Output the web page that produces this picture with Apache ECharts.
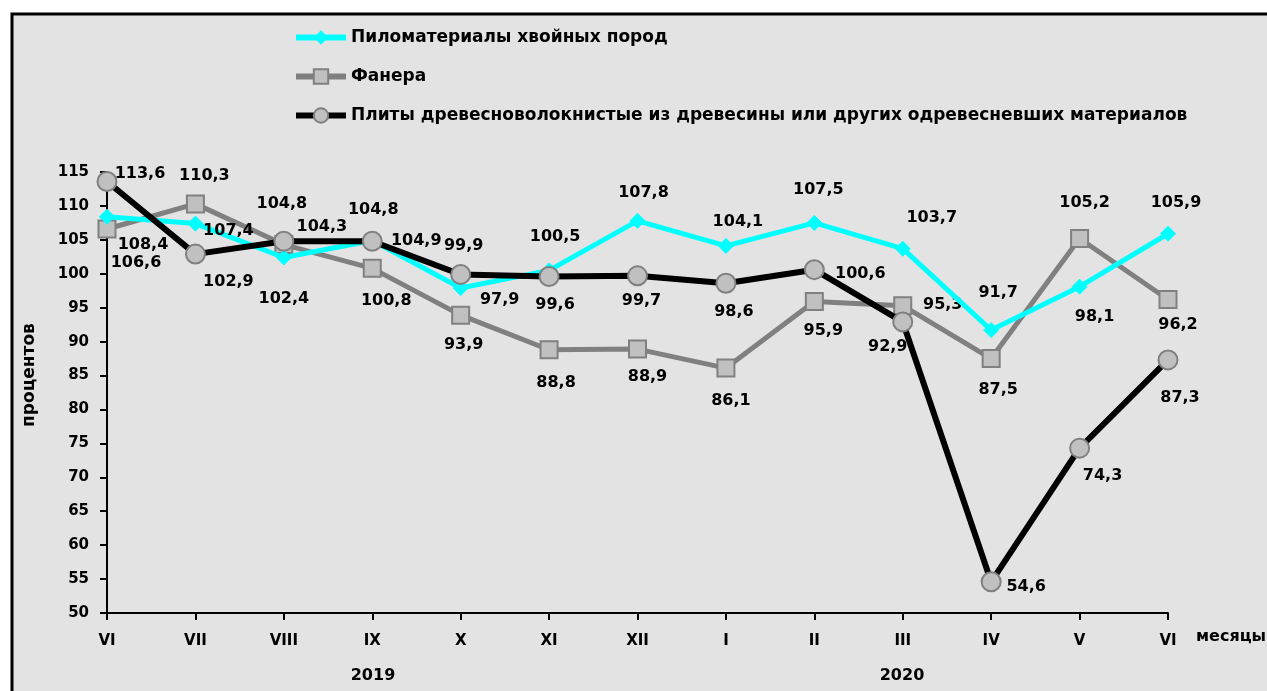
<!DOCTYPE html>
<html>
<head>
<meta charset="utf-8">
<script src="https://cdn.jsdelivr.net/npm/echarts@6/dist/echarts.min.js"></script>
<style>
html,body{margin:0;padding:0;background:#fff;}
#chart{width:1267px;height:691px;}
</style>
</head>
<body>
<div id="chart"></div>
<script>
const months = ['VI','VII','VIII','IX','X','XI','XII','I','II','III','IV','V','VI'];
const sawnwood = [108.4,107.4,102.4,104.9,97.9,100.5,107.8,104.1,107.5,103.7,91.7,98.1,105.9];
const plywood = [106.6,110.3,104.3,100.8,93.9,88.8,88.9,86.1,95.9,95.3,87.5,105.2,96.2];
const fibreboard = [113.6,102.9,104.8,104.8,99.9,99.6,99.7,98.6,100.6,92.9,54.6,74.3,87.3];
const seriesNames = ['Пиломатериалы хвойных пород','Фанера','Плиты древесноволокнистые из древесины или других одревесневших материалов'];
const yearLabels = ['2019','2020'];

// label offsets (label centre relative to the point)
const offSaw = [[36,28],[33,7],[0,41],[44,0],[39,12],[6,-34],[6,-28],[12,-24],[4,-33],[29,-31],[7,-37],[15,30],[8,-31]];
const offPly = [[29,34],[9,-28],[38,-18],[14,33],[3,30],[7,33],[10,28],[5,33],[9,29],[40,-1],[7,31],[5,-36],[10,25]];
const offFib = [[33,-8],[33,28],[-2,-37],[1,-31],[3,-29],[6,28],[4,25],[8,29],[46,4],[-15,25],[35,5],[23,28],[12,38]];

const F = 'DejaVu Sans, Liberation Sans, sans-serif';
function mkData(vals, offs){
  return vals.map((v,i)=>({value:v,label:{offset:offs[i]}}));
}
const lblStyle = {show:true, position:'inside', color:'#000', fontFamily:F, fontWeight:'bold', fontSize:16, formatter:p=>String(p.value).replace('.',',')};

const chart = echarts.init(document.getElementById('chart'));
chart.setOption({
  backgroundColor:'#fff',
  animation:false,
  graphic:[
    {type:'rect', z:-10, shape:{x:12,y:14,width:1270,height:690}, style:{fill:'#e3e3e3', stroke:'#000', lineWidth:3}},
    {type:'text', x:30, y:375, rotation:Math.PI/2, style:{text:'процентов', font:'bold 17px '+F, fill:'#000', textAlign:'center', textVerticalAlign:'middle'}},
    {type:'text', x:1196, y:637, style:{text:'месяцы', font:'bold 16px '+F, fill:'#000', textAlign:'left', textVerticalAlign:'middle'}},
    {type:'text', x:373, y:676, style:{text:yearLabels[0], font:'bold 16px '+F, fill:'#000', textAlign:'center', textVerticalAlign:'middle'}},
    {type:'text', x:902, y:676, style:{text:yearLabels[1], font:'bold 16px '+F, fill:'#000', textAlign:'center', textVerticalAlign:'middle'}}
  ],
  legend:{
    orient:'vertical', left:293, top:29, padding:0, itemWidth:50, itemHeight:18, itemGap:22,
    textStyle:{fontFamily:F, fontWeight:'bold', fontSize:17, color:'#000'},
    data:[
      {name:seriesNames[0], lineStyle:{width:6}},
      {name:seriesNames[1], lineStyle:{width:6}},
      {name:seriesNames[2], lineStyle:{width:6}}
    ]
  },
  grid:{left:107, right:99, top:172, bottom:78, containLabel:false},
  xAxis:{
    type:'category', data:months, boundaryGap:false,
    axisLine:{lineStyle:{color:'#000', width:2}},
    axisTick:{show:true, length:7, lineStyle:{color:'#000', width:2}},
    axisLabel:{margin:21, color:'#000', fontFamily:F, fontWeight:'bold', fontSize:15},
    splitLine:{show:false}
  },
  yAxis:{
    type:'value', min:50, max:115, interval:5,
    axisLine:{show:true, lineStyle:{color:'#000', width:2}},
    axisTick:{show:true, length:7, lineStyle:{color:'#000', width:2}},
    axisLabel:{margin:18, color:'#000', fontFamily:F, fontWeight:'bold', fontSize:15},
    splitLine:{show:false}
  },
  series:[
    {name:seriesNames[0], type:'line', data:mkData(sawnwood,offSaw), z:3,
     symbol:'diamond', symbolSize:15, lineStyle:{color:'#00ffff', width:5},
     itemStyle:{color:'#00ffff', borderColor:'#00ffff'}, label:lblStyle},
    {name:seriesNames[1], type:'line', data:mkData(plywood,offPly), z:2,
     symbol:'rect', symbolSize:17, lineStyle:{color:'#808080', width:5},
     itemStyle:{color:'#c0c0c0', borderColor:'#808080', borderWidth:2}, label:lblStyle},
    {name:seriesNames[2], type:'line', data:mkData(fibreboard,offFib), z:4,
     symbol:'circle', symbolSize:19, lineStyle:{color:'#000', width:6},
     itemStyle:{color:'#c0c0c0', borderColor:'#808080', borderWidth:2}, label:lblStyle}
  ]
});
</script>
</body>
</html>
